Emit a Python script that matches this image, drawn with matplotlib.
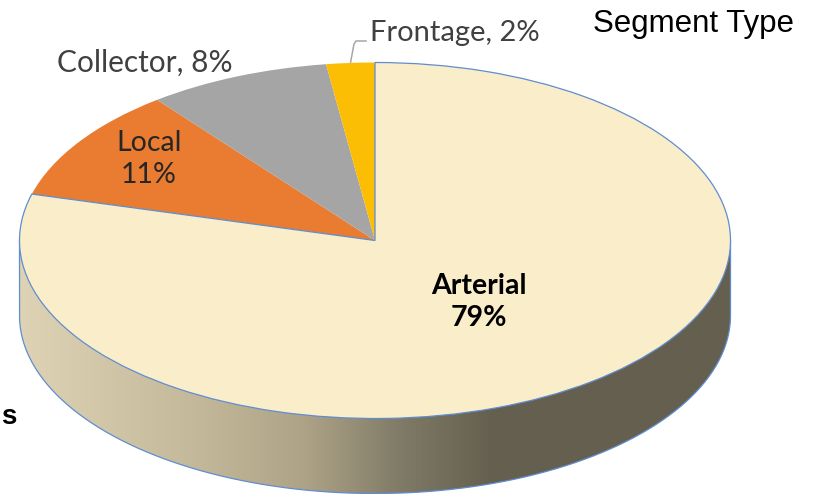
#!/usr/bin/env python
import numpy as np
import matplotlib
matplotlib.use('Agg')
import matplotlib.pyplot as plt
from matplotlib.patches import Polygon

# slice sizes as drawn, labels as printed on the chart
segments = ['Arterial', 'Local', 'Collector', 'Frontage']
sizes = [79.2, 10.3, 8.3, 2.2]
printed = ['79%', '11%', '8%', '2%']
colors = ['#FAEDCA', '#E97C30', '#A5A5A5', '#FBBE05']

edge_blue = '#5F8ED0'
text_col = '#404040'
label_font = ['Lato', 'DejaVu Sans']

# pie geometry in pixels of the 815x494 image
W, H = 815, 494
cx, cy = 375.0, 240.5
rx, ry = 355.5, 178.0
depth = 75.0 / ry

def to_x(px):
    return (px - cx) / rx

def to_y(py):
    return (cy - py) / ry

fig = plt.figure(figsize=(W / 100, H / 100), dpi=100)
ax = fig.add_axes([0, 0, 1, 1])

# side wall, a horizontal gradient clipped to the lower rim
stops_x = [-1.0, -0.5, -0.2, 0.08, 0.33, 1.0]
stops_r = [0xDF, 0xC4, 0xAE, 0x7F, 0x65, 0x65]
stops_g = [0xD3, 0xB8, 0xA3, 0x7A, 0x5F, 0x5F]
stops_b = [0xB5, 0x9A, 0x87, 0x66, 0x4F, 0x4F]
xx = np.linspace(-1, 1, 512)
grad = np.dstack([np.interp(xx, stops_x, stops_r),
                  np.interp(xx, stops_x, stops_g),
                  np.interp(xx, stops_x, stops_b)]).astype(np.uint8)
im = ax.imshow(grad, extent=[-1, 1, -1 - depth, 0], aspect='auto', zorder=1)

t = np.linspace(np.pi, 2 * np.pi, 300)
rim_x = np.cos(t)
rim_y = np.sin(t) - depth
wall = Polygon(np.column_stack([np.r_[rim_x, 1, -1], np.r_[rim_y, 0, 0]]),
               closed=True, transform=ax.transData, fc='none', ec='none')
ax.add_patch(wall)
im.set_clip_path(wall)
ax.plot(np.r_[-1, rim_x, 1], np.r_[0, rim_y, 0], color=edge_blue, lw=0.9, zorder=2)

wedges, _ = ax.pie(sizes, colors=colors, startangle=90, counterclock=False,
                   radius=1, wedgeprops={'linewidth': 0})
for w in wedges:
    w.set_zorder(3)
wedges[0].set_edgecolor(edge_blue)
wedges[0].set_linewidth(0.9)
wedges[0].set_zorder(4)

ax.set_aspect('auto')
ax.set_xlim(to_x(0), to_x(W))
ax.set_ylim(to_y(H), to_y(0))
ax.axis('off')

# labels
ax.text(to_x(479), to_y(302), segments[0] + '\n' + printed[0], ha='center', va='center',
        fontsize=20.5, fontweight='bold', color='black', family=label_font,
        linespacing=1.32, zorder=5)
ax.text(to_x(149), to_y(159), segments[1] + '\n' + printed[1], ha='center', va='center',
        fontsize=20.5, color='#262626', family=label_font, linespacing=1.32, zorder=5)
ax.text(to_x(145), to_y(63), segments[2] + ', ' + printed[2], ha='center', va='center',
        fontsize=21.5, color=text_col, family=label_font, zorder=5)
ax.text(to_x(455), to_y(33), segments[3] + ', ' + printed[3], ha='center', va='center',
        fontsize=21, color=text_col, family=label_font, zorder=5)

# leader line for the frontage label
mid = np.deg2rad(sum(sizes[:3]) * 3.6 + sizes[3] * 1.8)
x0 = np.sin(mid)
y0 = np.cos(mid)
ax.plot([x0, to_x(354), to_x(356), to_x(366)],
        [y0, to_y(44), to_y(41), to_y(41)],
        color='#A6A6A6', lw=1.1, zorder=2)

# page text around the chart
ax.text(to_x(694), to_y(24), 'Segment Type', ha='center', va='center',
        fontsize=22.5, color='black', family='Liberation Sans')
ax.text(to_x(1), to_y(417), 's', ha='left', va='center', fontsize=20,
        fontweight='bold', color='black', family='Liberation Sans')

fig.savefig('out.png', dpi=100)
